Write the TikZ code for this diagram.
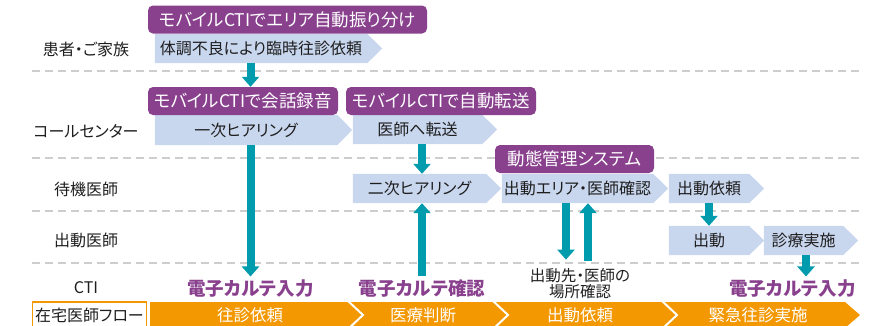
\documentclass[tikz,border=0pt]{standalone}
\usepackage{fontspec}
\setmainfont{Noto Sans CJK JP}[RawFeature=+palt]
\usetikzlibrary{arrows.meta,backgrounds,calc}

\definecolor{pur}{RGB}{137,65,142}
\definecolor{lb}{RGB}{200,214,238}
\definecolor{teal2}{RGB}{0,155,172}
\definecolor{org}{RGB}{243,152,0}
\definecolor{dgray}{RGB}{205,205,205}
\definecolor{txt}{RGB}{30,30,30}

\newcommand\chevbg[1]{\fill[lb] (#1.north west) -- (#1.north east) -- ([xshift=15pt]#1.east) -- (#1.south east) -- (#1.south west) -- cycle;}

\begin{document}
\begin{tikzpicture}[x=1pt,y=-1pt,
  lbl/.style={font=\fontsize{16}{17}\selectfont, text=txt, inner sep=0},
  pbox/.style={fill=pur, rounded corners=5pt, text=white, font=\fontsize{17.5}{19}\selectfont, inner sep=0, minimum height=28pt},
  cbox/.style={inner sep=0, minimum height=29pt, font=\fontsize{16}{17}\selectfont, text=txt},
  cti/.style={text=pur, font=\bfseries\fontsize{18.5}{20}\selectfont, inner sep=0},
  arr/.style={draw=teal2, line width=8pt, -{Triangle[width=17pt,length=10pt]}},
  sepline/.style={dgray, line width=1.5pt, dash pattern=on 8pt off 5pt},
  bartxt/.style={text=white, font=\fontsize{16.5}{18}\selectfont, inner sep=0},
  note/.style={font=\fontsize{15.5}{16}\selectfont, text=txt, inner sep=0, align=center},
]
\useasboundingbox (0,0) rectangle (886,325);
\clip (0,0) rectangle (886,325);

% row labels
\node[lbl] (L1) at (86,49) {患者・ご家族};
\node[lbl] (L2) at (86,131) {コールセンター};
\node[lbl] (L3) at (86,189.5) {待機医師};
\node[lbl] (L4) at (86,240) {出動医師};
\node[lbl] (L5) at (86,288) {CTI};

% purple boxes
\node[pbox, minimum width=279pt] (P1) at (287.5,19.5) {モバイルCTIでエリア自動振り分け};
\node[pbox, minimum width=190pt] (P2) at (243,101) {モバイルCTIで会話録音};
\node[pbox, minimum width=190pt] (P3) at (441,101) {モバイルCTIで自動転送};
\node[pbox, minimum width=159pt] (P4) at (574.5,159) {動態管理システム};

% chevrons (body nodes)
\node[cbox, minimum width=212pt] (C1) at (261,48.5) {体調不良により臨時往診依頼};
\node[cbox, minimum width=182pt, minimum height=30pt] (C2) at (246,130) {一次ヒアリング};
\node[cbox, minimum width=129pt] (C3) at (417.5,129.5) {医師へ転送};
\node[cbox, minimum width=133pt] (C4) at (419.5,188.5) {二次ヒアリング};
\node[cbox, minimum width=151pt] (C5) at (577.5,188.5) {出動エリア・医師確認};
\node[cbox, minimum width=80pt] (C6) at (709,188.5) {出動依頼};
\node[cbox, minimum width=80pt] (C7) at (709,240.5) {出動};
\node[cbox, minimum width=79pt] (C8) at (803.5,240.5) {診療実施};

% CTI texts
\node[cti] (E1) at (250.5,288.5) {電子カルテ入力};
\node[cti] (E2) at (422,288.5) {電子カルテ確認};
\node[cti] (E3) at (792.5,288.5) {電子カルテ入力};
\node[note] (N) at (580,284) {出動先・医師の\\場所確認};

% bottom bar
\fill[org] (150,302) -- (845,302) -- (860,315) -- (845,328) -- (150,328) -- cycle;
\draw[white, line width=2pt] (347,300) -- (363,315) -- (347,330);
\draw[white, line width=2pt] (492,300) -- (508,315) -- (492,330);
\draw[white, line width=2pt] (661,300) -- (677,315) -- (661,330);
\node[bartxt] (B1) at (250,315) {往診依頼};
\node[bartxt] (B2) at (423,315) {医療判断};
\node[bartxt] (B3) at (580,315) {出動依頼};
\node[bartxt] (B4) at (758,315) {緊急往診実施};
\node[draw=org, line width=1.5pt, fill=white, minimum width=114pt, minimum height=30pt, inner sep=0] (F0) at (89.5,317) {};
\node[lbl] (F) at (89.5,315) {在宅医師フロー};

% arrows
\draw[arr] (C1.south -| E1.north) -- (P2.north -| E1.north);
\draw[arr] (C2.south -| E1.north) -- ($(E1.north)+(0,-3)$);
\draw[arr] (C3.south -| E2.north) -- (C4.north -| E2.north);
\draw[arr] ($(E2.north)+(0,-3)$) -- (C4.south -| E2.north);
\draw[arr] ($(C5.south)+(-11.5,0)$) -- ($(C5.south |- N.north)+(-11.5,-9)$);
\draw[arr] ($(C5.south |- N.north)+(10.5,-8)$) -- ($(C5.south)+(10.5,0)$);
\draw[arr] (C6.south) -- (C7.north);
\draw[arr] ($(C8.south)+(2.5,0)$) -- ($(C8.south |- E3.north)+(2.5,-3)$);

\begin{scope}[on background layer]
\draw[sepline] (32,71) -- (860,71);
\draw[sepline] (32,158) -- (860,158);
\draw[sepline] (32,211) -- (860,211);
\draw[sepline] (32,263) -- (860,263);
\chevbg{C1}\chevbg{C2}\chevbg{C3}\chevbg{C4}
\chevbg{C5}\chevbg{C6}\chevbg{C7}\chevbg{C8}
\end{scope}
\end{tikzpicture}
\end{document}
